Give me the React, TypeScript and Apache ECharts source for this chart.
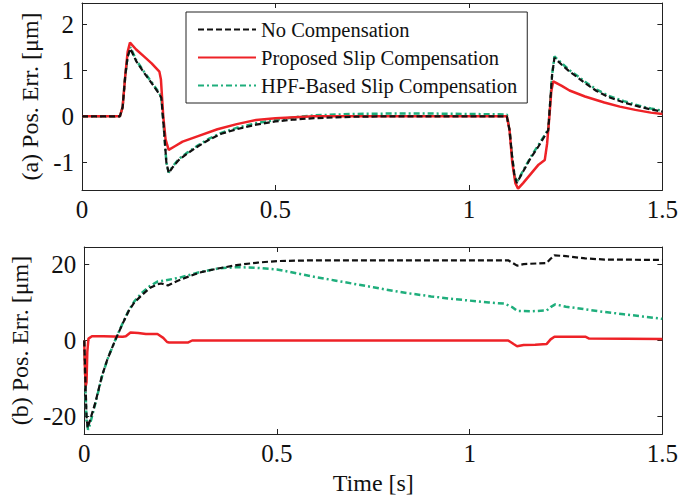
import React, { useEffect, useRef } from "react";
import * as echarts from "echarts";

const seriesNames = ["No Compensation", "Proposed Slip Compensation", "HPF-Based Slip Compensation"];
const xTicks = [0, 0.5, 1, 1.5];

// (a) position error, top panel [time s, error um]
const noCompA: [number, number][] = [
  [0, 0], [0.098, 0], [0.105, 0.2], [0.112, 0.9], [0.118, 1.3], [0.125, 1.47], [0.14, 1.2], [0.16, 0.95],
  [0.18, 0.72], [0.2, 0.48], [0.205, 0.4], [0.212, -0.3], [0.218, -1.0], [0.224, -1.23], [0.235, -1.1],
  [0.25, -0.95], [0.27, -0.82], [0.3, -0.65], [0.33, -0.5], [0.36, -0.38], [0.4, -0.28], [0.45, -0.18],
  [0.5, -0.11], [0.55, -0.07], [0.6, -0.04], [0.7, -0.01], [0.8, 0], [1.098, 0], [1.105, -0.3],
  [1.112, -0.9], [1.118, -1.3], [1.124, -1.45], [1.14, -1.2], [1.16, -0.9], [1.18, -0.65], [1.2, -0.37],
  [1.205, -0.3], [1.21, 0.3], [1.215, 0.9], [1.221, 1.27], [1.24, 1.12], [1.26, 0.97], [1.28, 0.85],
  [1.3, 0.72], [1.33, 0.55], [1.36, 0.42], [1.4, 0.3], [1.44, 0.21], [1.47, 0.15], [1.5, 0.1],
];
const proposedA: [number, number][] = [
  [0, 0], [0.098, 0], [0.105, 0.2], [0.112, 0.9], [0.118, 1.4], [0.124, 1.6], [0.14, 1.45], [0.16, 1.3],
  [0.18, 1.15], [0.2, 0.97], [0.204, 0.8], [0.21, 0], [0.216, -0.5], [0.224, -0.73], [0.24, -0.65],
  [0.26, -0.55], [0.3, -0.43], [0.35, -0.28], [0.4, -0.17], [0.45, -0.08], [0.5, -0.04], [0.55, -0.02],
  [0.6, 0], [1.098, 0], [1.105, -0.3], [1.112, -1.0], [1.12, -1.45], [1.127, -1.57], [1.14, -1.45],
  [1.16, -1.25], [1.18, -1.05], [1.196, -0.95], [1.202, -0.6], [1.208, 0], [1.213, 0.55], [1.218, 0.76],
  [1.24, 0.66], [1.26, 0.56], [1.3, 0.43], [1.35, 0.3], [1.39, 0.21], [1.43, 0.14], [1.47, 0.08], [1.5, 0.05],
];
const hpfA: [number, number][] = [
  [0, 0], [0.098, 0], [0.105, 0.2], [0.112, 0.9], [0.118, 1.3], [0.125, 1.5], [0.14, 1.22], [0.16, 0.97],
  [0.18, 0.74], [0.2, 0.5], [0.205, 0.42], [0.212, -0.3], [0.218, -1.0], [0.224, -1.22], [0.235, -1.08],
  [0.25, -0.93], [0.27, -0.8], [0.3, -0.63], [0.33, -0.48], [0.36, -0.36], [0.4, -0.25], [0.45, -0.15],
  [0.5, -0.08], [0.55, -0.02], [0.6, 0.02], [0.7, 0.05], [0.8, 0.06], [0.9, 0.06], [1.0, 0.05],
  [1.098, 0.04], [1.105, -0.3], [1.112, -0.9], [1.118, -1.3], [1.124, -1.43], [1.14, -1.18], [1.16, -0.88],
  [1.18, -0.62], [1.2, -0.35], [1.205, -0.28], [1.21, 0.3], [1.215, 0.9], [1.221, 1.3], [1.24, 1.15],
  [1.26, 1.0], [1.28, 0.88], [1.3, 0.75], [1.33, 0.58], [1.36, 0.45], [1.4, 0.33], [1.44, 0.23],
  [1.47, 0.17], [1.5, 0.12],
];

// (b) position error, bottom panel [time s, error um]
const noCompB: [number, number][] = [
  [0, 0], [0.003, -10], [0.006, -20], [0.009, -23], [0.015, -21], [0.029, -16.3], [0.046, -9.3],
  [0.06, -5], [0.08, 0], [0.1, 4.5], [0.115, 7.7], [0.13, 10], [0.15, 12], [0.17, 13.8], [0.19, 14.8],
  [0.2, 15], [0.217, 14.5], [0.24, 15.6], [0.27, 16.8], [0.3, 17.9], [0.35, 19], [0.4, 19.9], [0.45, 20.5],
  [0.5, 20.9], [0.6, 21.1], [0.8, 21.1], [1.1, 21.1], [1.115, 20.2], [1.123, 19.7], [1.14, 20.1],
  [1.2, 20.4], [1.21, 21.5], [1.22, 22.4], [1.25, 22.2], [1.3, 21.6], [1.35, 21.3], [1.5, 21.2],
];
const proposedB: [number, number][] = [
  [0, 0], [0.002, -8], [0.004, -12], [0.006, -11], [0.008, -3], [0.011, 0.5], [0.02, 1.1], [0.05, 1.1],
  [0.1, 1], [0.108, 1.1], [0.12, 2.1], [0.14, 2], [0.16, 1.7], [0.19, 1.7], [0.205, 0.7], [0.215, -0.4],
  [0.22, -0.5], [0.27, -0.5], [0.28, 0], [0.5, 0], [1.1, 0], [1.115, -1.0], [1.123, -1.5], [1.14, -1.2],
  [1.17, -1.1], [1.2, -0.9], [1.21, 0.3], [1.22, 1.0], [1.3, 1.0], [1.31, 0.5], [1.5, 0.4],
];
const hpfB: [number, number][] = [
  [0, 0], [0.003, -12], [0.006, -21], [0.01, -23.5], [0.015, -22], [0.029, -16.5], [0.046, -9.5],
  [0.06, -5], [0.08, 0], [0.1, 4.6], [0.115, 7.8], [0.13, 10.3], [0.15, 12.6], [0.17, 14.3], [0.19, 15.5],
  [0.21, 15.8], [0.25, 16.6], [0.3, 18], [0.35, 19], [0.4, 19.3], [0.45, 19.1], [0.5, 18.7], [0.55, 17.7],
  [0.6, 16.7], [0.65, 15.8], [0.7, 14.9], [0.75, 14.0], [0.8, 13.1], [0.85, 12.3], [0.9, 11.6],
  [0.95, 11], [1.0, 10.5], [1.05, 10], [1.09, 9.7], [1.11, 8.8], [1.123, 7.8], [1.16, 7.7], [1.2, 7.9],
  [1.21, 8.8], [1.222, 9.5], [1.25, 8.9], [1.3, 8.2], [1.35, 7.5], [1.4, 6.9], [1.45, 6.3], [1.5, 5.7],
];

const FONT = "'Liberation Serif', 'Times New Roman', serif";
const BLACK = "#111111";
const RED = "#ee2227";
const GREEN = "#1fae7c";

export default function App() {
  const ref = useRef<HTMLDivElement>(null);
  useEffect(() => {
    if (!ref.current) return;
    const chart = echarts.init(ref.current, undefined, { renderer: "svg" });
    const grids = [
      { left: 82, top: 3, width: 585, height: 187 },
      { left: 82, top: 247, width: 585, height: 187 },
    ];
    const axisLine = { show: true, onZero: false, lineStyle: { color: "#222", width: 1 } };
    const tick = { show: true, inside: true, length: 5, lineStyle: { color: "#222" } };
    const label = { fontFamily: FONT, fontSize: 25, color: "#111" };
    const xAxes: any[] = [];
    const yAxes: any[] = [];
    const yRanges = [
      { min: -1.6, max: 2.46, iv: 1, name: "(a) Pos. Err. [\u03bcm]" },
      { min: -24.6, max: 24.6, iv: 20, name: "(b) Pos. Err. [\u03bcm]" },
    ];
    [0, 1].forEach((g) => {
      const xBase = {
        type: "value", gridIndex: g, min: xTicks[0], max: xTicks[xTicks.length - 1], interval: 0.5,
        axisLine, axisTick: tick, splitLine: { show: false },
      };
      xAxes.push({
        ...xBase, position: "bottom",
        axisLabel: { ...label, margin: 7, formatter: (v: number) => String(v) },
        ...(g === 1 ? {
          name: "Time [s]", nameLocation: "middle", nameGap: 37,
          nameTextStyle: { fontFamily: FONT, fontSize: 24, color: "#111" },
        } : {}),
      });
      xAxes.push({ ...xBase, position: "top", axisLabel: { show: false } });
      const yr = yRanges[g];
      const yBase = {
        type: "value", gridIndex: g, min: yr.min, max: yr.max, minInterval: yr.iv, maxInterval: yr.iv,
        axisLine, axisTick: tick, splitLine: { show: false },
      };
      yAxes.push({
        ...yBase, position: "left",
        axisLabel: { ...label, margin: 8, showMinLabel: false, showMaxLabel: false },
        name: yr.name, nameLocation: "middle", nameGap: 38, nameRotate: 90,
        nameTextStyle: { fontFamily: FONT, fontSize: 24, color: "#111" },
      });
      yAxes.push({ ...yBase, position: "right", axisLabel: { show: false } });
    });

    const styles = [
      { color: BLACK, width: 2.2, type: [6, 3] as any },
      { color: RED, width: 2.5, type: "solid" as any },
      { color: GREEN, width: 2.5, type: [6, 3, 2, 3] as any },
    ];
    const datasets = [
      [noCompA, proposedA, hpfA],
      [noCompB, proposedB, hpfB],
    ];
    const series: any[] = [];
    [0, 1].forEach((g) => {
      [0, 1, 2].forEach((k) => {
        series.push({
          type: "line", name: seriesNames[k], xAxisIndex: g * 2, yAxisIndex: g * 2,
          data: datasets[g][k], showSymbol: false, symbol: "none",
          lineStyle: styles[k], itemStyle: { color: styles[k].color },
          z: k === 1 ? 3 : k === 0 ? 4 : 2, silent: true,
        });
      });
    });

    chart.setOption({
      animation: false,
      backgroundColor: "#ffffff",
      grid: grids,
      xAxis: xAxes,
      yAxis: yAxes,
      legend: {
        show: true, orient: "vertical", left: 186, top: 12,
        data: seriesNames,
        backgroundColor: "#ffffff", borderColor: "#222", borderWidth: 1,
        padding: [7, 10, 7, 11], itemGap: 7, itemWidth: 58, itemHeight: 14,
        itemStyle: { opacity: 0 },
        textStyle: { fontFamily: FONT, fontSize: 20.5, color: "#111", lineHeight: 20 },
        selectedMode: false,
      },
      series,
    });
    return () => chart.dispose();
  }, []);
  return <div ref={ref} style={{ width: 681, height: 499, position: "absolute", left: 0, top: 0 }} />;
}
